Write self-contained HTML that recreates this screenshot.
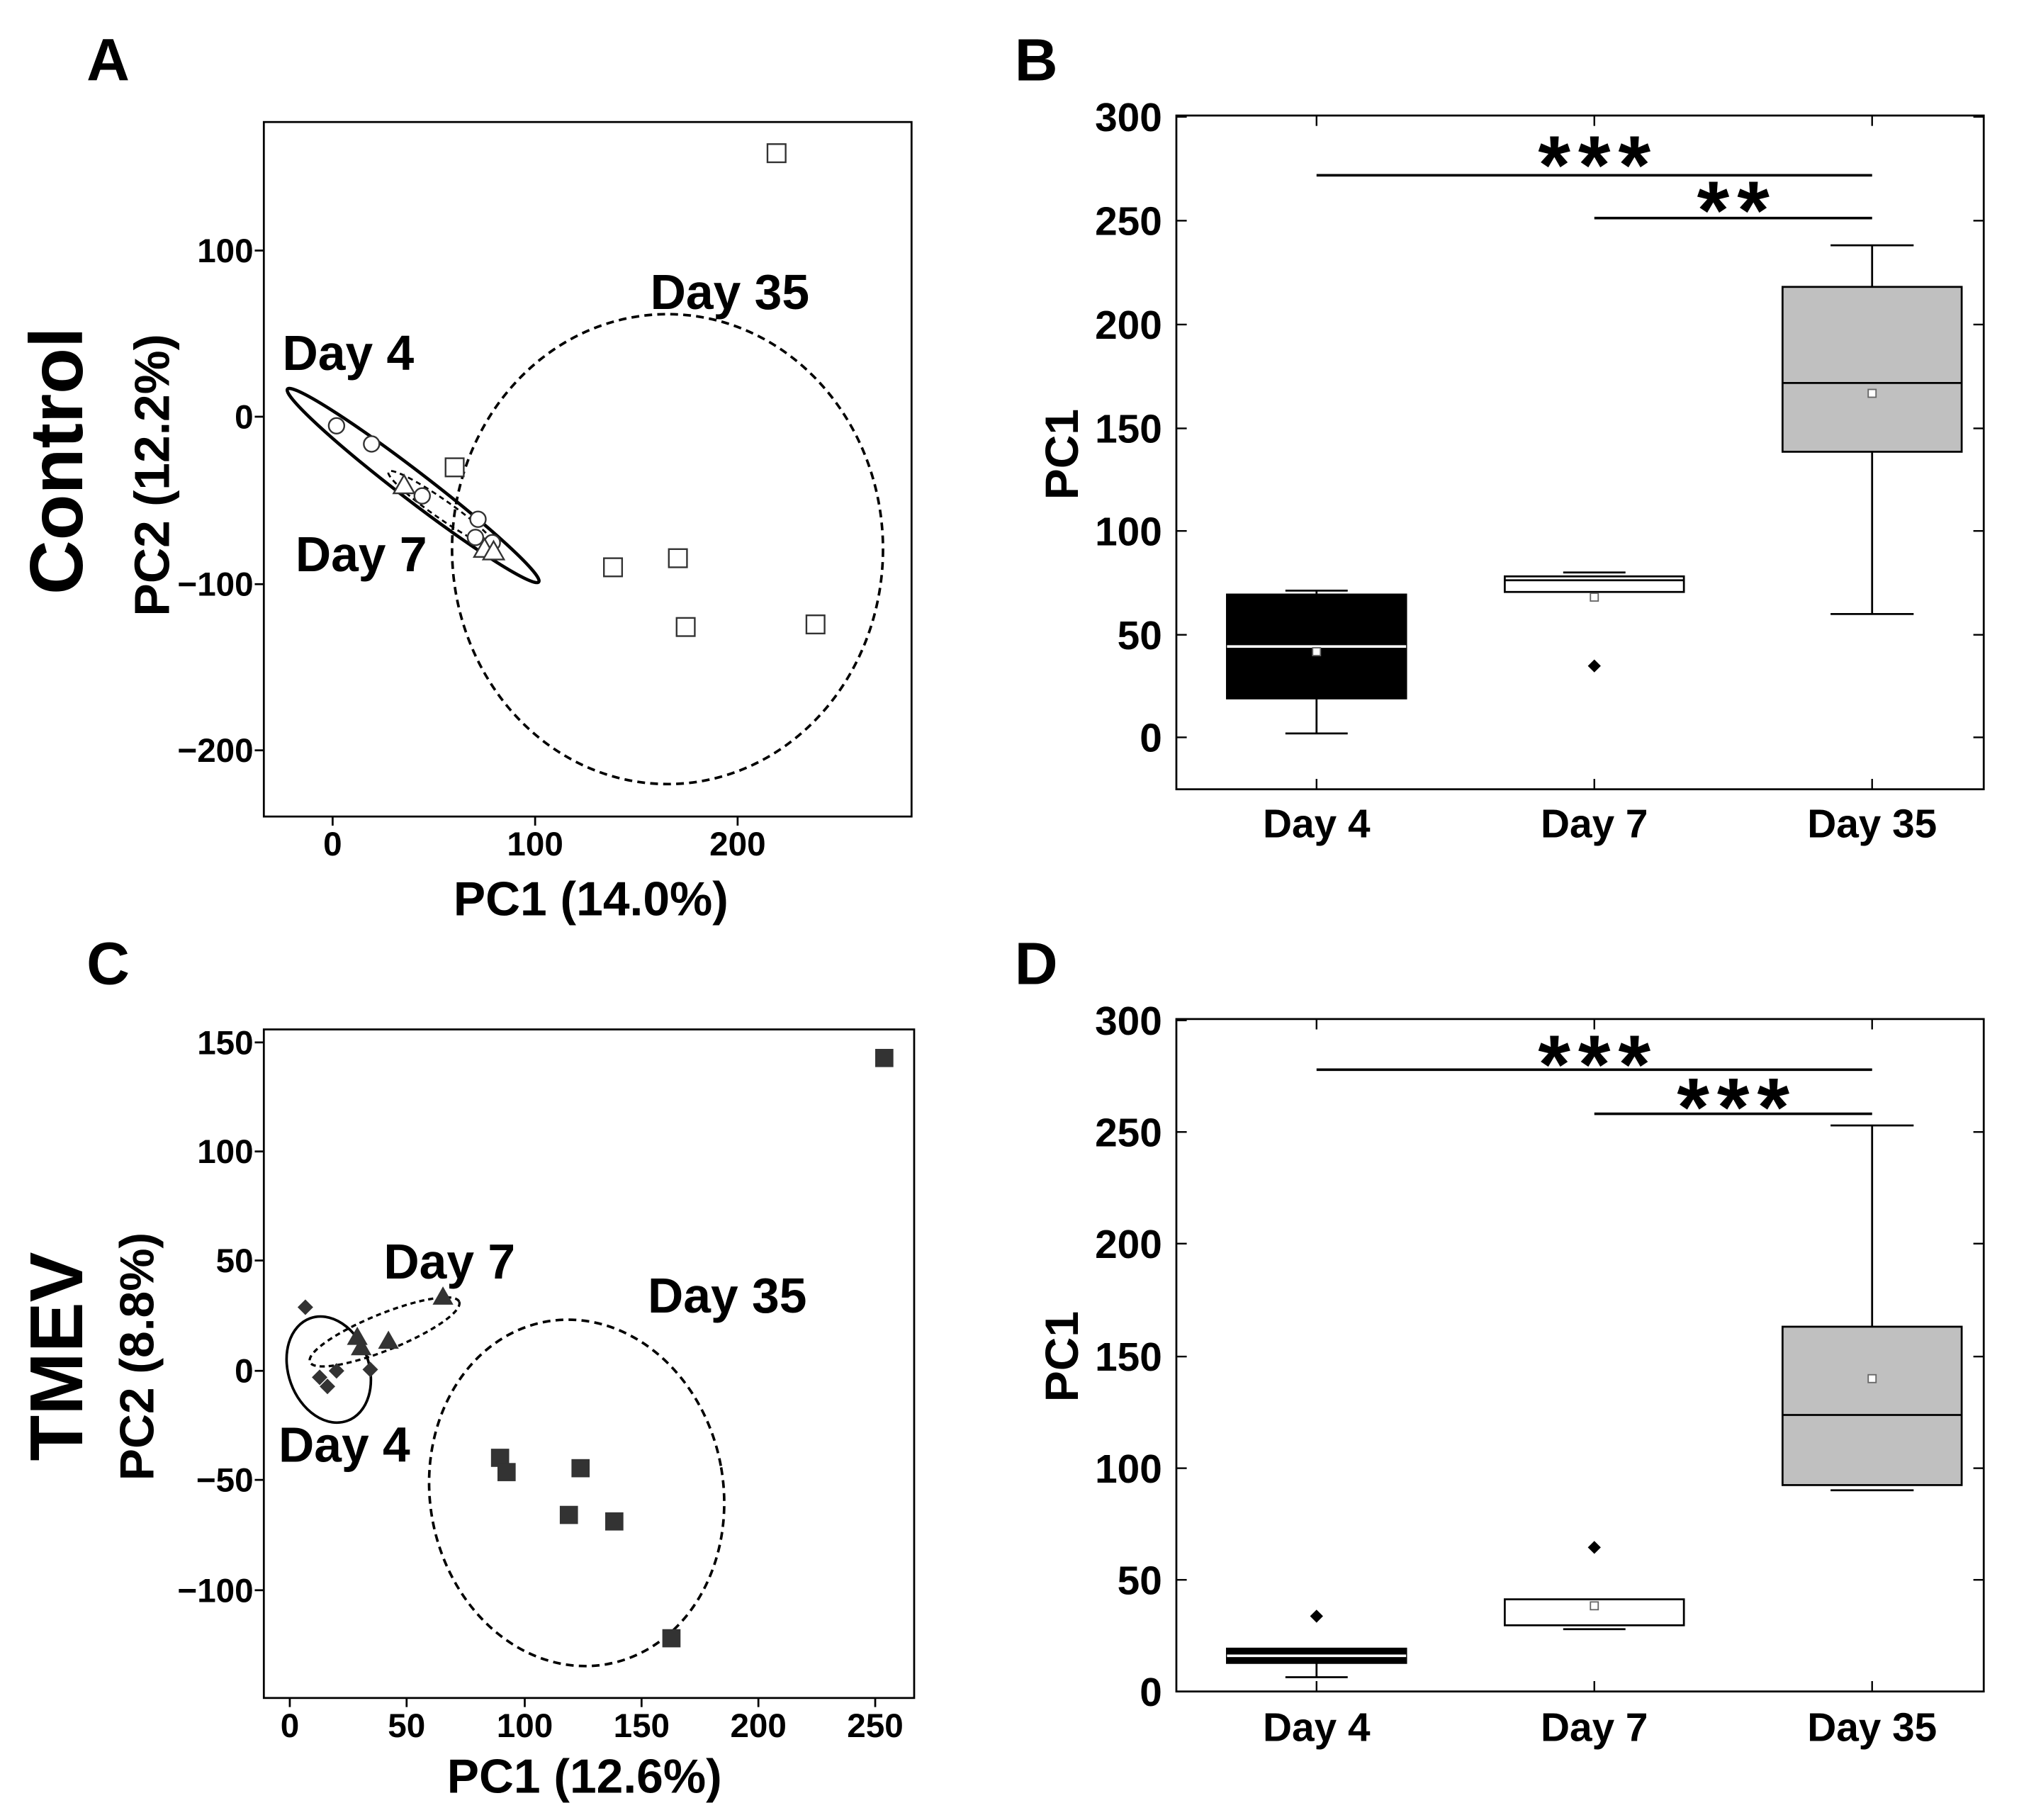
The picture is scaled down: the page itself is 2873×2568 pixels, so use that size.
<!DOCTYPE html>
<html><head><meta charset="utf-8"><style>html,body{margin:0;padding:0;background:#fff}svg{display:block}</style></head>
<body>
<svg width="2873" height="2568" viewBox="0 0 1568 1402" xmlns="http://www.w3.org/2000/svg" font-family="Liberation Sans, Arial, sans-serif" font-weight="bold">
<rect width="1568" height="1402" fill="#fff"/>
<!-- Panel A -->
<text x="83" y="62" font-size="46" text-anchor="middle">A</text>
<text transform="translate(63,355) rotate(-90)" font-size="58" text-anchor="middle">Control</text>
<text transform="translate(130,366) rotate(-90)" font-size="38" text-anchor="middle">PC2 (12.2%)</text>
<text x="455" y="705" font-size="37" text-anchor="middle">PC1 (14.0%)</text>
<rect x="203" y="94" width="499" height="535" fill="none" stroke="#000" stroke-width="1.5"/>
<g font-size="26" text-anchor="middle"><text x="256" y="659">0</text><text x="412" y="659">100</text><text x="568" y="659">200</text></g>
<g font-size="26" text-anchor="end"><text x="195" y="202">100</text><text x="195" y="330">0</text><text x="195" y="459">−100</text><text x="195" y="587">−200</text></g>
<g stroke="#000" stroke-width="1.5"><line x1="256" y1="629" x2="256" y2="636"/><line x1="412" y1="629" x2="412" y2="636"/><line x1="568" y1="629" x2="568" y2="636"/>
<line x1="196" y1="193" x2="203" y2="193"/><line x1="196" y1="321" x2="203" y2="321"/><line x1="196" y1="450" x2="203" y2="450"/><line x1="196" y1="578" x2="203" y2="578"/></g>
<ellipse cx="318" cy="374" rx="122" ry="11" transform="rotate(37.5 318 374)" fill="none" stroke="#000" stroke-width="2.5"/>
<ellipse cx="340" cy="392" rx="50" ry="7" transform="rotate(35 340 392)" fill="none" stroke="#000" stroke-width="1.5" stroke-dasharray="4,3"/>
<ellipse cx="514" cy="423" rx="166" ry="181" fill="none" stroke="#000" stroke-width="2" stroke-dasharray="6,4"/>
<g fill="#fff" stroke="#333" stroke-width="1.3">
<rect x="591" y="111" width="14" height="14"/><rect x="343" y="353" width="14" height="14"/><rect x="465" y="430" width="14" height="14"/><rect x="515" y="423" width="14" height="14"/><rect x="521" y="476" width="14" height="14"/><rect x="621" y="474" width="14" height="14"/>
<circle cx="259" cy="328" r="6"/><circle cx="286" cy="342" r="6"/><circle cx="325" cy="382" r="6"/><circle cx="368" cy="400" r="6"/><circle cx="366" cy="414" r="6"/><circle cx="379" cy="418" r="6"/>
<path d="M311,366 L319,380 L303,380Z"/><path d="M373,415 L381,429 L365,429Z"/><path d="M380,417 L388,431 L372,431Z"/></g>
<g font-size="38"><text x="562" y="238" text-anchor="middle">Day 35</text><text x="268" y="285" text-anchor="middle">Day 4</text><text x="278" y="440" text-anchor="middle">Day 7</text></g>
<!-- Panel B -->
<text x="798" y="62" font-size="46" text-anchor="middle">B</text>
<text transform="translate(830,350) rotate(-90)" font-size="36" text-anchor="middle">PC1</text>
<rect x="906" y="89" width="622" height="519" fill="none" stroke="#000" stroke-width="1.5"/>
<g font-size="31" text-anchor="end"><text x="895" y="101">300</text><text x="895" y="181">250</text><text x="895" y="261">200</text><text x="895" y="341">150</text><text x="895" y="420">100</text><text x="895" y="500">50</text><text x="895" y="579">0</text></g>
<g stroke="#000" stroke-width="1.3"><line x1="906" y1="90" x2="914" y2="90"/><line x1="906" y1="170" x2="914" y2="170"/><line x1="906" y1="250" x2="914" y2="250"/><line x1="906" y1="330" x2="914" y2="330"/><line x1="906" y1="409" x2="914" y2="409"/><line x1="906" y1="489" x2="914" y2="489"/><line x1="906" y1="568" x2="914" y2="568"/>
<line x1="1520" y1="90" x2="1528" y2="90"/><line x1="1520" y1="170" x2="1528" y2="170"/><line x1="1520" y1="250" x2="1528" y2="250"/><line x1="1520" y1="330" x2="1528" y2="330"/><line x1="1520" y1="409" x2="1528" y2="409"/><line x1="1520" y1="489" x2="1528" y2="489"/><line x1="1520" y1="568" x2="1528" y2="568"/>
<line x1="1014" y1="89" x2="1014" y2="97"/><line x1="1228" y1="89" x2="1228" y2="97"/><line x1="1442" y1="89" x2="1442" y2="97"/>
<line x1="1014" y1="600" x2="1014" y2="608"/><line x1="1228" y1="600" x2="1228" y2="608"/><line x1="1442" y1="600" x2="1442" y2="608"/></g>
<g font-size="31" text-anchor="middle"><text x="1014" y="645">Day 4</text><text x="1228" y="645">Day 7</text><text x="1442" y="645">Day 35</text></g>
<g stroke="#000" stroke-width="1.5" fill="none">
<line x1="1014" y1="455" x2="1014" y2="565"/><line x1="990" y1="455" x2="1038" y2="455"/><line x1="990" y1="565" x2="1038" y2="565"/>
<rect x="945" y="458" width="138" height="80" fill="#000"/><line x1="945" y1="498" x2="1083" y2="498" stroke="#fff" stroke-width="2"/>
<line x1="1204" y1="441" x2="1252" y2="441"/><rect x="1159" y="444" width="138" height="12" fill="#fff"/><line x1="1159" y1="447" x2="1297" y2="447"/>
<line x1="1442" y1="189" x2="1442" y2="473"/><line x1="1410" y1="189" x2="1474" y2="189"/><line x1="1410" y1="473" x2="1474" y2="473"/>
<rect x="1373" y="221" width="138" height="127" fill="#c0c0c0"/><line x1="1373" y1="295" x2="1511" y2="295"/>
<line x1="1014" y1="135" x2="1442" y2="135" stroke-width="2"/><line x1="1228" y1="168" x2="1442" y2="168" stroke-width="2"/></g>
<rect x="1011" y="499" width="6" height="6" fill="#fff" stroke="#666" stroke-width="1"/>
<rect x="1225" y="457" width="6" height="6" fill="#fff" stroke="#666" stroke-width="1"/>
<rect x="1439" y="300" width="6" height="6" fill="#fff" stroke="#666" stroke-width="1"/>
<path d="M1228,508 L1233,513 L1228,518 L1223,513Z" fill="#000"/>
<g font-size="64" text-anchor="middle" letter-spacing="6"><text x="1231" y="149">***</text><text x="1338" y="184">**</text></g>
<!-- Panel C -->
<text x="83" y="758" font-size="46" text-anchor="middle">C</text>
<text transform="translate(63,1045) rotate(-90)" font-size="58" text-anchor="middle">TMEV</text>
<text transform="translate(118,1045) rotate(-90)" font-size="37" text-anchor="middle">PC2 (8.8%)</text>
<text x="450" y="1381" font-size="37" text-anchor="middle">PC1 (12.6%)</text>
<rect x="203" y="793" width="501" height="515" fill="none" stroke="#000" stroke-width="1.5"/>
<g font-size="26" text-anchor="middle"><text x="223" y="1338">0</text><text x="313" y="1338">50</text><text x="404" y="1338">100</text><text x="494" y="1338">150</text><text x="584" y="1338">200</text><text x="674" y="1338">250</text></g>
<g font-size="26" text-anchor="end"><text x="195" y="812">150</text><text x="195" y="896">100</text><text x="195" y="980">50</text><text x="195" y="1065">0</text><text x="195" y="1149">−50</text><text x="195" y="1234">−100</text></g>
<g stroke="#000" stroke-width="1.5"><line x1="223" y1="1308" x2="223" y2="1315"/><line x1="313" y1="1308" x2="313" y2="1315"/><line x1="404" y1="1308" x2="404" y2="1315"/><line x1="494" y1="1308" x2="494" y2="1315"/><line x1="584" y1="1308" x2="584" y2="1315"/><line x1="674" y1="1308" x2="674" y2="1315"/>
<line x1="196" y1="803" x2="203" y2="803"/><line x1="196" y1="887" x2="203" y2="887"/><line x1="196" y1="971" x2="203" y2="971"/><line x1="196" y1="1056" x2="203" y2="1056"/><line x1="196" y1="1140" x2="203" y2="1140"/><line x1="196" y1="1225" x2="203" y2="1225"/></g>
<ellipse cx="253" cy="1055" rx="31" ry="42" transform="rotate(-20 253 1055)" fill="none" stroke="#000" stroke-width="2"/>
<ellipse cx="296" cy="1026" rx="62" ry="14" transform="rotate(-22 296 1026)" fill="none" stroke="#000" stroke-width="1.8" stroke-dasharray="4,3"/>
<ellipse cx="444" cy="1150" rx="113" ry="134" transform="rotate(-10 444 1150)" fill="none" stroke="#000" stroke-width="2" stroke-dasharray="6,4"/>
<g fill="#333">
<rect x="674" y="808" width="14" height="14"/><rect x="378" y="1116" width="14" height="14"/><rect x="383" y="1127" width="14" height="14"/><rect x="440" y="1124" width="14" height="14"/><rect x="431" y="1160" width="14" height="14"/><rect x="466" y="1165" width="14" height="14"/><rect x="510" y="1255" width="14" height="14"/>
<path d="M235,1001 L241,1007 L235,1013 L229,1007Z"/><path d="M246,1055 L252,1061 L246,1067 L240,1061Z"/><path d="M252,1062 L258,1068 L252,1074 L246,1068Z"/><path d="M259,1050 L265,1056 L259,1062 L253,1056Z"/><path d="M285,1049 L291,1055 L285,1061 L279,1055Z"/>
<path d="M341,991 L349,1005 L333,1005Z"/><path d="M299,1025 L307,1039 L291,1039Z"/><path d="M275,1022 L283,1036 L267,1036Z"/><path d="M278,1030 L286,1044 L270,1044Z"/></g>
<g font-size="38"><text x="346" y="985" text-anchor="middle">Day 7</text><text x="560" y="1011" text-anchor="middle">Day 35</text><text x="265" y="1126" text-anchor="middle">Day 4</text></g>
<!-- Panel D -->
<text x="798" y="758" font-size="46" text-anchor="middle">D</text>
<text transform="translate(830,1045) rotate(-90)" font-size="36" text-anchor="middle">PC1</text>
<rect x="906" y="785" width="622" height="518" fill="none" stroke="#000" stroke-width="1.5"/>
<g font-size="31" text-anchor="end"><text x="895" y="797">300</text><text x="895" y="883">250</text><text x="895" y="969">200</text><text x="895" y="1056">150</text><text x="895" y="1142">100</text><text x="895" y="1228">50</text><text x="895" y="1314">0</text></g>
<g stroke="#000" stroke-width="1.3"><line x1="906" y1="786" x2="914" y2="786"/><line x1="906" y1="872" x2="914" y2="872"/><line x1="906" y1="958" x2="914" y2="958"/><line x1="906" y1="1045" x2="914" y2="1045"/><line x1="906" y1="1131" x2="914" y2="1131"/><line x1="906" y1="1217" x2="914" y2="1217"/>
<line x1="1520" y1="872" x2="1528" y2="872"/><line x1="1520" y1="958" x2="1528" y2="958"/><line x1="1520" y1="1045" x2="1528" y2="1045"/><line x1="1520" y1="1131" x2="1528" y2="1131"/><line x1="1520" y1="1217" x2="1528" y2="1217"/>
<line x1="1014" y1="785" x2="1014" y2="793"/><line x1="1228" y1="785" x2="1228" y2="793"/><line x1="1442" y1="785" x2="1442" y2="793"/>
<line x1="1014" y1="1295" x2="1014" y2="1303"/><line x1="1228" y1="1295" x2="1228" y2="1303"/><line x1="1442" y1="1295" x2="1442" y2="1303"/></g>
<g font-size="31" text-anchor="middle"><text x="1014" y="1341">Day 4</text><text x="1228" y="1341">Day 7</text><text x="1442" y="1341">Day 35</text></g>
<g stroke="#000" stroke-width="1.5" fill="none">
<line x1="1014" y1="1280" x2="1014" y2="1292"/><line x1="990" y1="1292" x2="1038" y2="1292"/>
<rect x="945" y="1270" width="138" height="11" fill="#000"/><line x1="945" y1="1275.5" x2="1083" y2="1275.5" stroke="#fff" stroke-width="2"/>
<line x1="1204" y1="1255" x2="1252" y2="1255"/><rect x="1159" y="1232" width="138" height="20" fill="#fff"/>
<line x1="1442" y1="867" x2="1442" y2="1022"/><line x1="1410" y1="867" x2="1474" y2="867"/><line x1="1410" y1="1148" x2="1474" y2="1148"/>
<rect x="1373" y="1022" width="138" height="122" fill="#c0c0c0"/><line x1="1373" y1="1090" x2="1511" y2="1090"/>
<line x1="1014" y1="824" x2="1442" y2="824" stroke-width="2"/><line x1="1228" y1="858" x2="1442" y2="858" stroke-width="2"/></g>
<rect x="1225" y="1234" width="6" height="6" fill="#fff" stroke="#666" stroke-width="1"/>
<rect x="1439" y="1059" width="6" height="6" fill="#fff" stroke="#666" stroke-width="1"/>
<path d="M1014,1240 L1019,1245 L1014,1250 L1009,1245Z" fill="#000"/>
<path d="M1228,1187 L1233,1192 L1228,1197 L1223,1192Z" fill="#000"/>
<g font-size="64" text-anchor="middle" letter-spacing="6"><text x="1231" y="842">***</text><text x="1338" y="875">***</text></g>
</svg>
</body></html>
